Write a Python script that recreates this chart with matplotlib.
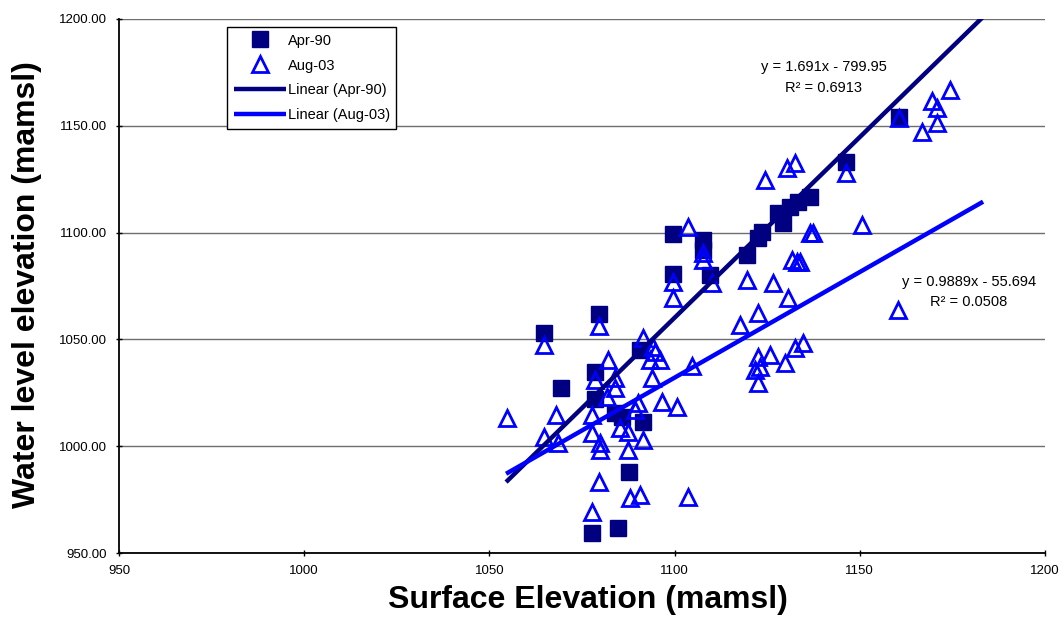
"""
Water level elevation vs surface elevation, Apr-90 and Aug-03 surveys
"""
import matplotlib
matplotlib.use('Agg')
import matplotlib.pyplot as plt

plt.rcParams['font.family'] = ['Liberation Sans', 'DejaVu Sans']

# Apr-90 readings
apr90_surface = [1064.7, 1079.6, 1069.3, 1078.5, 1078.5, 1090.7, 1083.9, 1085.8, 1091.5, 1087.7,
                 1077.7, 1084.7, 1099.6, 1099.6, 1107.7, 1107.7, 1109.6, 1119.5, 1122.5, 1123.6,
                 1127.9, 1129.3, 1131.2, 1133.3, 1136.6, 1146.3, 1160.6]
apr90_water = [1053.0, 1061.9, 1027.2, 1034.7, 1022.1, 1045.0, 1015.5, 1013.7, 1011.3, 987.9,
               959.4, 961.7, 1099.3, 1080.6, 1096.5, 1091.9, 1080.1, 1089.5, 1097.5, 1100.3,
               1109.2, 1104.5, 1112.0, 1114.3, 1116.7, 1133.1, 1154.1]

# Aug-03 readings
aug03_surface = [1054.8, 1064.7, 1064.7, 1068.0, 1068.5, 1079.6, 1078.5, 1077.7, 1077.7, 1079.9,
                 1079.9, 1079.6, 1077.7, 1082.0, 1083.9, 1083.9, 1081.7, 1091.5, 1094.2, 1094.7,
                 1093.4, 1096.1, 1093.9, 1090.1, 1089.3, 1085.3, 1087.4, 1091.5, 1087.4, 1088.0,
                 1090.7, 1103.6, 1096.6, 1100.6, 1104.7, 1099.6, 1099.6, 1103.6, 1107.7, 1107.7,
                 1110.1, 1117.7, 1119.5, 1122.5, 1126.6, 1130.6, 1124.4, 1130.3, 1132.5, 1131.7,
                 1133.0, 1133.9, 1136.6, 1137.4, 1134.7, 1132.5, 1125.8, 1122.5, 1123.1, 1121.7,
                 1129.8, 1122.5, 1150.6, 1146.3, 1160.6, 1166.8, 1169.5, 1170.8, 1170.8, 1174.4,
                 1160.3]
aug03_water = [1013.2, 1047.4, 1004.3, 1014.6, 1001.5, 1056.3, 1031.0, 1014.6, 1006.2, 1001.5,
               998.2, 983.2, 969.2, 1040.4, 1031.9, 1027.2, 1023.0, 1050.7, 1046.4, 1044.1,
               1040.4, 1040.4, 1031.9, 1020.2, 1016.9, 1008.5, 1006.6, 1002.9, 998.2, 975.7,
               977.2, 976.2, 1020.7, 1018.4, 1037.5, 1076.9, 1069.4, 1102.6, 1090.4, 1087.2,
               1076.4, 1056.7, 1077.8, 1062.4, 1076.4, 1069.4, 1124.6, 1130.2, 1132.6, 1087.2,
               1086.2, 1086.2, 1099.8, 1099.8, 1048.3, 1046.0, 1042.7, 1041.8, 1037.1, 1035.7,
               1039.0, 1029.6, 1103.6, 1127.9, 1153.7, 1147.1, 1161.6, 1158.3, 1151.3, 1166.8,
               1063.8]

# linear trendlines (slope, intercept) and their x extent
apr90_fit = (1.691, -799.95)
aug03_fit = (0.9889, -55.694)
trend_x = [1054.5, 1183.3]

navy = '#000080'
blue = '#0000FF'

fig = plt.figure(figsize=(10.6, 6.29), dpi=100)
ax = fig.add_axes([0.1123, 0.1208, 0.8735, 0.849])

ax.plot(apr90_surface, apr90_water, ls='none', marker='s', ms=11, color=navy,
        mec=navy, label='Apr-90', zorder=3)
ax.plot(aug03_surface, aug03_water, ls='none', marker='^', ms=11, mfc='none',
        mec=blue, mew=2, label='Aug-03', zorder=4)

for (m, c), col, name in [(apr90_fit, navy, 'Linear (Apr-90)'), (aug03_fit, blue, 'Linear (Aug-03)')]:
    ys = [m * x + c for x in trend_x]
    ax.plot(trend_x, ys, color=col, lw=3.2, label=name, zorder=5, solid_capstyle='butt')

ax.text(1140.3, 1172.6, 'y = 1.691x - 799.95\nR² = 0.6913', ha='center', va='center',
        multialignment='center', fontsize=10.5, linespacing=1.55)
ax.text(1179.5, 1072.4, 'y = 0.9889x - 55.694\nR² = 0.0508', ha='center', va='center',
        multialignment='center', fontsize=10.5, linespacing=1.55)

ax.set_xlim(950, 1200)
ax.set_ylim(950, 1200)
ax.set_xticks([950, 1000, 1050, 1100, 1150, 1200])
ax.set_yticks([950, 1000, 1050, 1100, 1150, 1200])
ax.set_yticklabels(['%.2f' % v for v in ax.get_yticks()])
ax.tick_params(direction='inout', length=5, width=1, labelsize=9.5, pad=6)
ax.grid(axis='y', color='#6e6e6e', lw=1)
ax.set_axisbelow(True)
for s in ['top', 'right']:
    ax.spines[s].set_visible(False)
for s in ['left', 'bottom']:
    ax.spines[s].set_linewidth(1.3)

ax.set_xlabel('Surface Elevation (mamsl)', fontsize=23, fontweight='bold', va='center')
ax.set_ylabel('Water level elevation (mamsl)', fontsize=23, fontweight='bold', va='center')
ax.xaxis.set_label_coords(0.506, -0.088)
ax.yaxis.set_label_coords(-0.0994, 0.502)

leg = ax.legend(loc='upper left', bbox_to_anchor=(0.1166, 0.985), borderaxespad=0,
                fontsize=10.5, fancybox=False, framealpha=1, edgecolor='black',
                handlelength=3.6, handletextpad=0.1, labelspacing=0.75, borderpad=0.45)
leg.get_frame().set_linewidth(1)

fig.savefig('out.png', dpi=100)
